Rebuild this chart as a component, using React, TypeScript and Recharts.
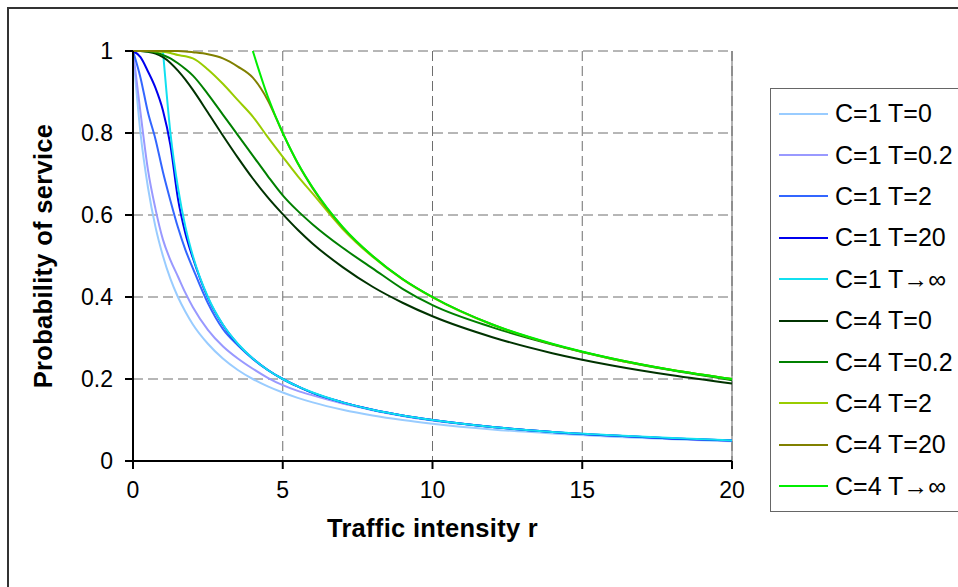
import React from 'react';
import { LineChart, Line, XAxis, YAxis, CartesianGrid, Legend, ReferenceLine } from 'recharts';

const FONT = '"Liberation Sans", Arial, sans-serif';

// traffic intensity r (x axis)
const rValues = [0, 0.25, 0.5, 0.75, 1, 1.25, 1.5, 1.75, 2, 2.5, 3, 3.5, 4, 4.5, 5, 5.5, 6, 7, 8, 9, 10, 12, 14, 16, 18, 20];

// probability of service
const c1t0 = [1, 0.8, 0.667, 0.571, 0.5, 0.444, 0.4, 0.364, 0.333, 0.286, 0.25, 0.222, 0.2, 0.182, 0.167, 0.154, 0.143, 0.125, 0.111, 0.1, 0.091, 0.077, 0.067, 0.059, 0.053, 0.048];
const c1t02 = [1, 0.85, 0.71, 0.615, 0.54, 0.49, 0.45, 0.41, 0.375, 0.32, 0.28, 0.25, 0.225, 0.203, 0.185, 0.171, 0.16, 0.14, 0.124, 0.11, 0.099, 0.083, 0.071, 0.062, 0.055, 0.049];
const c1t2 = [1, 0.935, 0.85, 0.785, 0.705, 0.635, 0.57, 0.515, 0.47, 0.385, 0.322, 0.282, 0.249, 0.222, 0.2, 0.182, 0.166, 0.143, 0.125, 0.111, 0.1, 0.083, 0.071, 0.062, 0.055, 0.05];
const c1t20 = [1, 0.985, 0.95, 0.91, 0.855, 0.77, 0.64, 0.555, 0.495, 0.398, 0.332, 0.285, 0.25, 0.222, 0.2, 0.182, 0.166, 0.143, 0.125, 0.111, 0.1, 0.083, 0.071, 0.062, 0.055, 0.05];
const c1tInf = [null, null, null, null, 1, 0.8, 0.667, 0.571, 0.5, 0.4, 0.333, 0.286, 0.25, 0.222, 0.2, 0.182, 0.167, 0.143, 0.125, 0.111, 0.1, 0.083, 0.071, 0.063, 0.056, 0.05];
const c4t0 = [1, 1, 0.998, 0.994, 0.985, 0.971, 0.952, 0.93, 0.905, 0.85, 0.794, 0.74, 0.689, 0.643, 0.602, 0.564, 0.53, 0.473, 0.425, 0.386, 0.353, 0.302, 0.263, 0.233, 0.209, 0.189];
const c4t02 = [1, 1, 0.999, 0.997, 0.99, 0.982, 0.97, 0.956, 0.94, 0.895, 0.845, 0.795, 0.745, 0.695, 0.648, 0.61, 0.577, 0.52, 0.47, 0.42, 0.38, 0.326, 0.284, 0.249, 0.221, 0.197];
const c4t2 = [1, 1, 1, 0.999, 0.998, 0.995, 0.99, 0.987, 0.982, 0.955, 0.92, 0.88, 0.84, 0.79, 0.742, 0.695, 0.652, 0.566, 0.498, 0.443, 0.399, 0.332, 0.285, 0.249, 0.222, 0.2];
const c4t20 = [1, 1, 1, 1, 1, 1, 1, 0.999, 0.997, 0.992, 0.982, 0.962, 0.935, 0.88, 0.8, 0.726, 0.665, 0.57, 0.5, 0.444, 0.4, 0.333, 0.285, 0.25, 0.222, 0.2];
const c4tInf = [null, null, null, null, null, null, null, null, null, null, null, null, 1, 0.889, 0.8, 0.727, 0.667, 0.571, 0.5, 0.444, 0.4, 0.333, 0.286, 0.25, 0.222, 0.2];

const xTicks = [0, 5, 10, 15, 20];
const yTicks = [0, 0.2, 0.4, 0.6, 0.8, 1];

const series = [
  { key: 'c1t0', name: 'C=1 T=0', color: '#99ccff', values: c1t0 },
  { key: 'c1t02', name: 'C=1 T=0.2', color: '#9999ff', values: c1t02 },
  { key: 'c1t2', name: 'C=1 T=2', color: '#3366ff', values: c1t2 },
  { key: 'c1t20', name: 'C=1 T=20', color: '#0000ee', values: c1t20 },
  { key: 'c1tInf', name: 'C=1 T\u2192\u221e', color: '#11e0f0', values: c1tInf },
  { key: 'c4t0', name: 'C=4 T=0', color: '#003300', values: c4t0 },
  { key: 'c4t02', name: 'C=4 T=0.2', color: '#008000', values: c4t02 },
  { key: 'c4t2', name: 'C=4 T=2', color: '#99cc00', values: c4t2 },
  { key: 'c4t20', name: 'C=4 T=20', color: '#808000', values: c4t20 },
  { key: 'c4tInf', name: 'C=4 T\u2192\u221e', color: '#00ee00', values: c4tInf },
];

const data = rValues.map((r, i) => {
  const row: { [k: string]: number | null } = { r };
  series.forEach(s => {
    row[s.key] = s.values[i];
  });
  return row;
});

const renderLegend = (props: any) => (
  <div
    style={{
      width: 200,
      boxSizing: 'border-box',
      border: '1.5px solid #666',
      background: '#fff',
      padding: '4px 0 4px 8px',
      fontFamily: FONT,
    }}
  >
    {(props.payload || []).map((p: any) => (
      <div key={p.value} style={{ display: 'flex', alignItems: 'center', height: 41.4 }}>
        <span style={{ display: 'inline-block', width: 49, height: 2, background: p.color, marginRight: 7 }} />
        <span style={{ fontSize: 25, color: '#000', whiteSpace: 'nowrap' }}>{p.value}</span>
      </div>
    ))}
  </div>
);

export default function App() {
  return (
    <div style={{ position: 'absolute', left: 0, top: 0, width: 958, height: 587, overflow: 'hidden', background: '#fff' }}>
      <div
        style={{
          position: 'absolute',
          left: 7,
          top: 7,
          width: 1000,
          height: 1000,
          border: '2px solid #333',
        }}
      />
      <div style={{ position: 'absolute', left: 0, top: 0 }}>
        <LineChart
          width={958}
          height={587}
          data={data}
          margin={{ top: 51, right: 226, left: 2, bottom: 46 }}
          style={{ fontFamily: FONT }}
        >
          <CartesianGrid strokeDasharray="10 5" stroke="#6e6e6e" />
          <ReferenceLine x={20} stroke="#666" strokeWidth={1} />
          <XAxis
            dataKey="r"
            type="number"
            domain={[0, 20]}
            ticks={xTicks}
            height={80}
            stroke="#000"
            strokeWidth={2}
            tickSize={8}
            tickMargin={13}
            tick={{ fill: '#000', fontSize: 23, fontFamily: FONT }}
            label={{
              value: 'Traffic intensity r',
              position: 'insideBottom',
              offset: 4,
              style: { fill: '#000', fontSize: 25.5, fontWeight: 'bold', fontFamily: FONT, textAnchor: 'middle', letterSpacing: 0.3 },
            }}
          />
          <YAxis
            type="number"
            domain={[0, 1]}
            ticks={yTicks}
            width={131}
            stroke="#000"
            strokeWidth={2}
            tickSize={8}
            tickMargin={12}
            tick={{ fill: '#000', fontSize: 23, fontFamily: FONT }}
            label={{
              value: 'Probability of service',
              angle: -90,
              position: 'insideLeft',
              offset: 41,
              style: { fill: '#000', fontSize: 25.5, fontWeight: 'bold', fontFamily: FONT, textAnchor: 'middle', letterSpacing: 0.3 },
            }}
          />
          <Legend
            layout="vertical"
            align="center"
            verticalAlign="middle"
            content={renderLegend}
            wrapperStyle={{ left: 770, top: 88, width: 200 }}
          />
          {series.map(s => (
            <Line
              key={s.key}
              type="monotone"
              dataKey={s.key}
              name={s.name}
              stroke={s.color}
              strokeWidth={2}
              dot={false}
              connectNulls={false}
              isAnimationActive={false}
            />
          ))}
        </LineChart>
      </div>
    </div>
  );
}
